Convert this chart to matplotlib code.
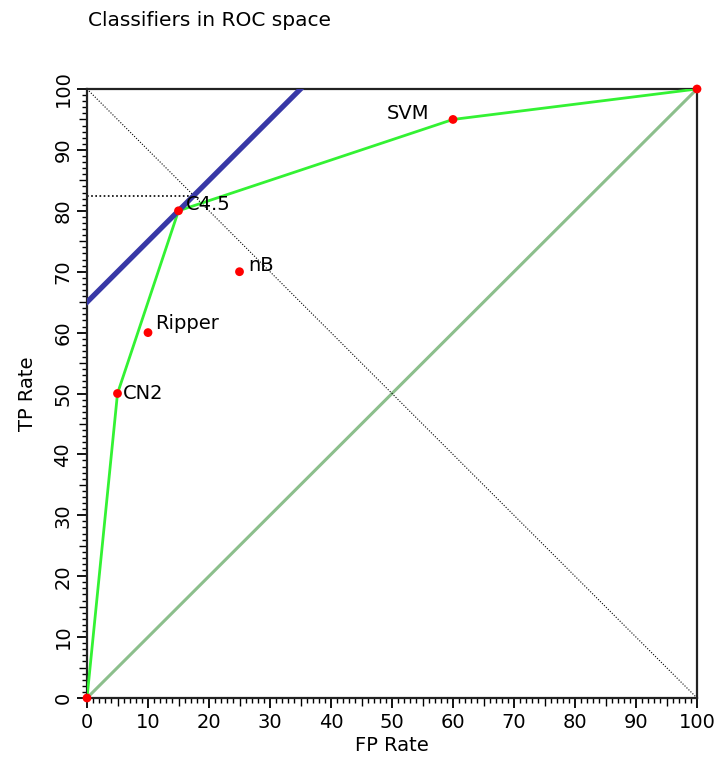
import matplotlib
matplotlib.use("Agg")
import matplotlib.pyplot as plt
from matplotlib.ticker import MultipleLocator, FixedLocator

# Data
names = ["", "CN2", "Ripper", "C4.5", "nB", "SVM", ""]
fpr = [0, 5, 10, 15, 25, 60, 100]
tpr = [0, 50, 60, 80, 70, 95, 100]
hull_fpr = [0, 5, 15, 60, 100]
hull_tpr = [0, 50, 80, 95, 100]
iso_fpr = [0, 35]
iso_tpr = [65, 100]
opt_fpr = [0, 17.5]
opt_tpr = [82.5, 82.5]

fig = plt.figure(figsize=(7.22, 7.65), dpi=100)
ax = fig.add_axes([87/722, 1-698/765, 610/722, 609/765])

ax.plot([0, 100], [0, 100], color=(0.55, 0.75, 0.55), lw=2.2, zorder=1)
ax.plot([0, 100], [100, 0], color="black", lw=0.8, ls=(0, (1, 1.5)), zorder=1)
ax.plot(opt_fpr, opt_tpr, color="black", lw=1.2, ls=(0, (1, 1.5)), zorder=2)
ax.plot(hull_fpr, hull_tpr, color=(0.2, 0.95, 0.2), lw=2, zorder=3)
ax.plot(iso_fpr, iso_tpr, color=(0.22, 0.22, 0.65), lw=3.8, zorder=4)
ax.scatter(fpr, tpr, color="red", s=40, zorder=5, clip_on=False, edgecolors="none")

offsets = {"CN2": (0.8, 0), "Ripper": (1.2, 1.5), "C4.5": (1.2, 1.0),
           "nB": (1.5, 1.0), "SVM": (-10.8, 0.9)}
for n, x, y in zip(names, fpr, tpr):
    if n:
        dx, dy = offsets[n]
        ax.text(x + dx, y + dy, n, fontsize=14, va="center", ha="left", zorder=6)

ax.set_xlim(0, 100)
ax.set_ylim(0, 100)
ax.xaxis.set_major_locator(MultipleLocator(10))
ax.yaxis.set_major_locator(MultipleLocator(10))
minor = [v for v in range(0, 101) if v % 10 != 0]
ax.xaxis.set_minor_locator(FixedLocator(minor))
ax.yaxis.set_minor_locator(FixedLocator(minor))
ax.tick_params(which="major", length=7, width=1.3, labelsize=14, direction="out")
ax.tick_params(which="minor", length=3.5, width=1, direction="out")
for axis in (ax.xaxis, ax.yaxis):
    for t, loc in zip(axis.get_minor_ticks(), minor):
        if loc % 5 == 0:
            t.tick1line.set_markersize(5.5)
for lab in ax.get_yticklabels():
    lab.set_rotation(90)
    lab.set_va("center")
for s in ax.spines.values():
    s.set_linewidth(1.6)
    s.set_color("#222222")

ax.set_xlabel("FP Rate", fontsize=14, labelpad=3)
ax.set_ylabel("TP Rate", fontsize=14, labelpad=12)
fig.text(88/722, 1-20/765, "Classifiers in ROC space", fontsize=14.5, ha="left", va="center")

fig.savefig("out.png", dpi=100)
